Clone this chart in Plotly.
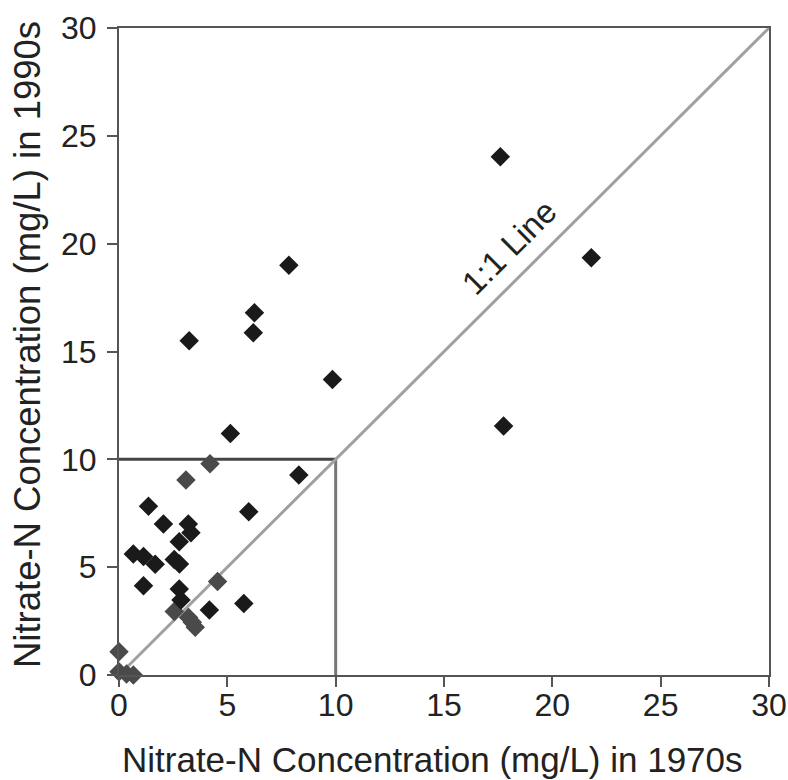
import plotly.graph_objects as go

# Data (mg/L)
x_dark = [5.14, 8.3, 1.36, 5.99, 2.05, 3.2, 3.32, 2.78, 0.66, 1.13, 1.67, 2.55, 2.79,
          1.13, 2.78, 2.86, 4.17, 5.76, 17.6, 7.84, 6.25, 6.2, 3.24, 9.85, 21.8, 17.75]
y_dark = [11.2, 9.27, 7.83, 7.57, 7.0, 7.0, 6.6, 6.18, 5.61, 5.49, 5.13, 5.36, 5.15,
          4.14, 3.99, 3.48, 3.01, 3.32, 24.03, 19.0, 16.8, 15.87, 15.5, 13.7, 19.35, 11.54]

x_gray = [4.2, 3.09, 4.55, 2.55, 3.21, 3.38, 3.52, 0.0, 0.0, 0.35, 0.66]
y_gray = [9.8, 9.04, 4.33, 2.94, 2.67, 2.45, 2.21, 1.08, 0.15, 0.05, 0.0]

one_to_one = [0, 30]
limit = [0, 10]
ticks = [0, 5, 10, 15, 20, 25, 30]

x_title = "Nitrate-N Concentration (mg/L) in 1970s"
y_title = "Nitrate-N Concentration (mg/L) in 1990s"

font = "Liberation Sans, Arial, Helvetica, sans-serif"

fig = go.Figure()

# 10 mg/L limit lines
fig.add_trace(go.Scatter(x=limit, y=[10, 10], mode="lines",
                         line=dict(color="#444444", width=3), hoverinfo="skip", showlegend=False))
fig.add_trace(go.Scatter(x=[10, 10], y=limit, mode="lines",
                         line=dict(color="#777777", width=3), hoverinfo="skip", showlegend=False))
# 1:1 line
fig.add_trace(go.Scatter(x=one_to_one, y=one_to_one, mode="lines",
                         line=dict(color="#a0a0a0", width=3), hoverinfo="skip", showlegend=False))

fig.add_trace(go.Scatter(x=x_gray, y=y_gray, mode="markers", cliponaxis=False,
                         marker=dict(symbol="diamond", size=15, color="#4a4a4a"),
                         showlegend=False))
fig.add_trace(go.Scatter(x=x_dark, y=y_dark, mode="markers", cliponaxis=False,
                         marker=dict(symbol="diamond", size=15, color="#1a1a1a"),
                         showlegend=False))

fig.add_annotation(x=18.0, y=19.8, text="1:1 Line", showarrow=False, textangle=-45,
                   font=dict(family=font, size=33, color="#222222"))

# axis titles as annotations for exact placement
fig.add_annotation(x=0.483, y=-0.131, xref="paper", yref="paper", text=x_title,
                   showarrow=False, xanchor="center", yanchor="middle",
                   font=dict(family=font, size=35, color="#222222"))
fig.add_annotation(x=-0.1415, y=0.51, xref="paper", yref="paper", text=y_title,
                   showarrow=False, xanchor="center", yanchor="middle", textangle=-90,
                   font=dict(family=font, size=36.5, color="#222222"))

axis_common = dict(range=[0, 30], tickvals=ticks, ticks="outside", ticklen=10, tickwidth=2,
                   tickcolor="#555555", showline=True, linecolor="#555555", linewidth=2,
                   mirror=True, showgrid=False, zeroline=False, automargin=False,
                   tickfont=dict(family=font, size=32, color="#222222"))

fig.update_xaxes(**axis_common, ticklabelstandoff=-9)
fig.update_yaxes(**axis_common, ticklabelstandoff=4)

fig.update_layout(width=788, height=780, plot_bgcolor="white", paper_bgcolor="white",
                  margin=dict(l=119, r=19, t=28, b=105))

fig.write_html("out.html", config={"displayModeBar": False},
               post_script="document.body.style.margin='0';document.body.style.overflow='hidden';")
